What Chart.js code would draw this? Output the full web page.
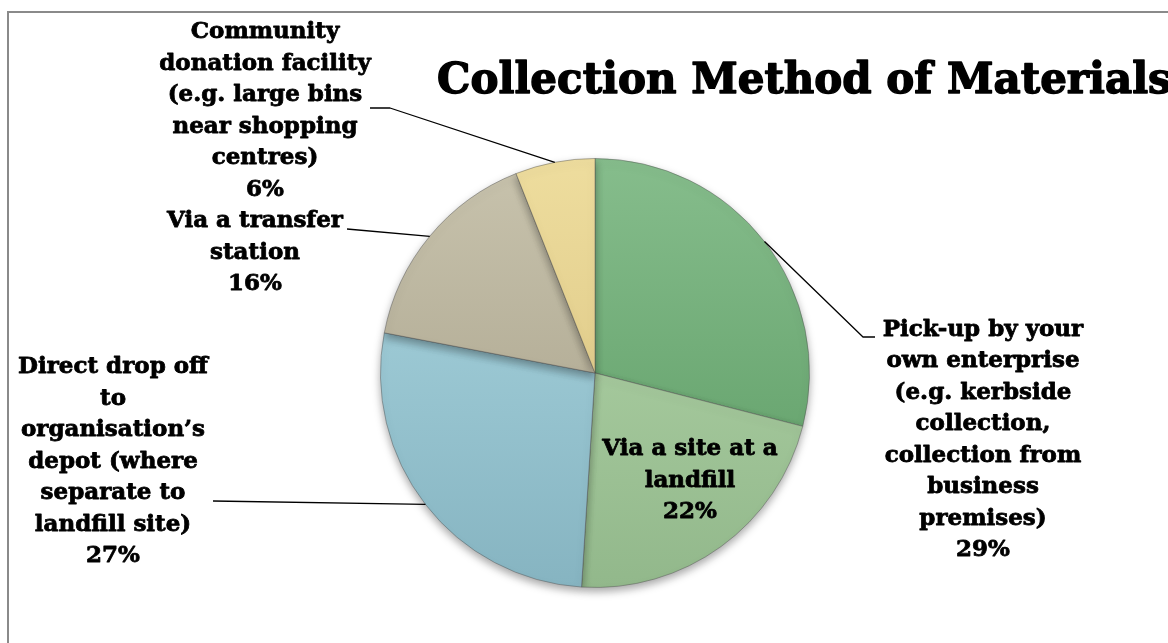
<!DOCTYPE html>
<html>
<head>
<meta charset="utf-8">
<title>Collection Method of Materials</title>
<script src="https://cdn.jsdelivr.net/npm/chart.js@4.4.1/dist/chart.umd.min.js"></script>
<style>
  html, body { margin: 0; padding: 0; background: #fff; }
  #wrap { width: 1168px; height: 643px; position: relative; }
</style>
</head>
<body>
<div id="wrap"><canvas id="myChart"></canvas></div>
<script>
// data
const categories = [
  'Pick-up by your own enterprise (e.g. kerbside collection, collection from business premises)',
  'Via a site at a landfill',
  'Direct drop off to organisation\u2019s depot (where separate to landfill site)',
  'Via a transfer station',
  'Community donation facility (e.g. large bins near shopping centres)'
];
const values = [29, 22, 27, 16, 6];
const labelLines = [
  ['Pick-up by your', 'own enterprise', '(e.g. kerbside', 'collection,', 'collection from', 'business', 'premises)'],
  ['Via a site at a', 'landfill'],
  ['Direct drop off', 'to', 'organisation\u2019s', 'depot (where', 'separate to', 'landfill site)'],
  ['Via a transfer', 'station'],
  ['Community', 'donation facility', '(e.g. large bins', 'near shopping', 'centres)']
];
const chartTitle = 'Collection Method of Materials';

// colours: top and bottom of each slice gradient
const topColors = ['#86bd8c', '#b6d8ac', '#abd7e1', '#c8c3ad', '#eedd9e'];
const bottomColors = ['#5a9a62', '#92b88b', '#86b4c1', '#a49d86', '#d6bf7c'];

const FONT = '"DejaVu Serif", "Liberation Serif", serif';
const LINE_H = 31.5;

// label block centres and leader line points (layout only)
const labelLayout = [
  { cx: 983, cy: 440, leader: [[863, 337], [875, 337]] },
  { cx: 690, cy: 481 },
  { cx: 113, cy: 462, leader: [[213, 501]] },
  { cx: 255, cy: 253, leader: [[347, 229]] },
  { cx: 265, cy: 111, leader: [[390, 108], [370, 108]] }
];

function sliceGradient(ctx) {
  const chart = ctx.chart;
  const area = chart.chartArea;
  if (!area) return topColors[ctx.dataIndex];
  const g = chart.ctx.createLinearGradient(0, area.top, 0, area.bottom);
  g.addColorStop(0, topColors[ctx.dataIndex]);
  g.addColorStop(1, bottomColors[ctx.dataIndex]);
  return g;
}

function boldText(c, t, x, y, w) {
  c.lineWidth = w;
  c.strokeText(t, x, y);
  c.fillText(t, x, y);
}

const decorations = {
  id: 'decorations',
  beforeDraw(chart) {
    const c = chart.ctx;
    c.save();
    c.strokeStyle = '#8a8a8a';
    c.lineWidth = 2;
    c.strokeRect(8, 12, 1400, 900);
    c.restore();
  },
  beforeDatasetsDraw(chart) {
    const c = chart.ctx;
    c.save();
    c.shadowColor = 'rgba(0,0,0,0.35)';
    c.shadowBlur = 9;
    c.shadowOffsetY = 4;
  },
  afterDatasetsDraw(chart) {
    chart.ctx.restore();
  },
  afterDraw(chart) {
    const c = chart.ctx;
    const meta = chart.getDatasetMeta(0);
    const total = values.reduce((a, b) => a + b, 0);
    c.save();
    // title
    c.fillStyle = '#000';
    c.strokeStyle = '#000';
    c.lineJoin = 'round';
    c.font = 'bold 42px ' + FONT;
    c.textAlign = 'left';
    c.textBaseline = 'middle';
    boldText(c, chartTitle, 437, 82, 1.4);

    c.font = 'bold 23px ' + FONT;
    c.textAlign = 'center';
    meta.data.forEach((arc, i) => {
      const p = arc.getProps(['x', 'y', 'startAngle', 'endAngle', 'outerRadius'], true);
      const lay = labelLayout[i];
      if (lay.leader) {
        const mid = (p.startAngle + p.endAngle) / 2;
        const ex = p.x + Math.cos(mid) * p.outerRadius;
        const ey = p.y + Math.sin(mid) * p.outerRadius;
        c.beginPath();
        c.moveTo(ex, ey);
        lay.leader.forEach(pt => c.lineTo(pt[0], pt[1]));
        c.lineWidth = 1.3;
        c.stroke();
      }
      const lines = labelLines[i].concat([Math.round(values[i] / total * 100) + '%']);
      const y0 = lay.cy - (lines.length - 1) * LINE_H / 2;
      lines.forEach((t, k) => boldText(c, t, lay.cx, y0 + k * LINE_H, 0.8));
    });
    c.restore();
  }
};

new Chart(document.getElementById('myChart'), {
  type: 'pie',
  data: {
    labels: categories,
    datasets: [{
      data: values,
      backgroundColor: sliceGradient,
      borderColor: 'rgba(80,80,80,0.45)',
      borderWidth: 1
    }]
  },
  options: {
    responsive: true,
    maintainAspectRatio: false,
    animation: false,
    layout: { padding: { top: 158, bottom: 55, left: 380, right: 358 } },
    plugins: {
      legend: { display: false },
      tooltip: { enabled: false },
      title: { display: false }
    }
  },
  plugins: [decorations]
});
</script>
</body>
</html>
